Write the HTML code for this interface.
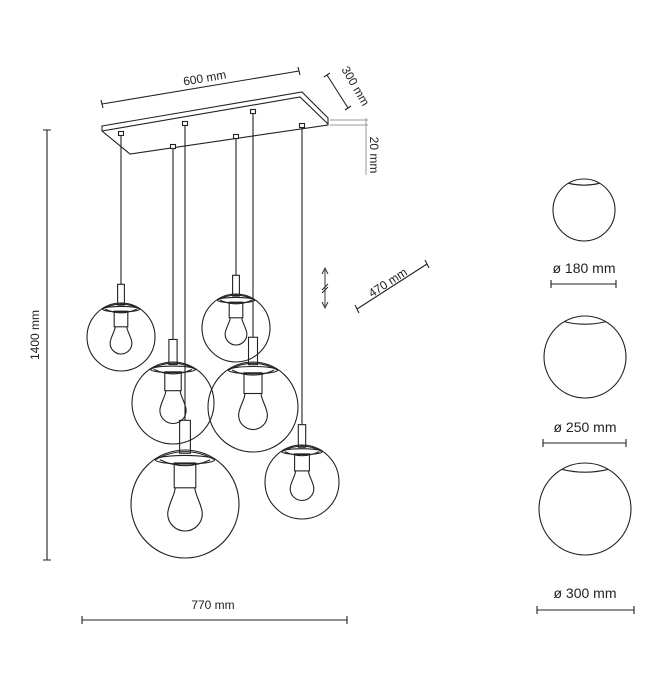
<!DOCTYPE html>
<html><head><meta charset="utf-8"><style>
html,body{margin:0;padding:0;background:#fff}
svg{display:block}
text{font-family:"Liberation Sans",sans-serif;fill:#222}
</style></head><body>
<svg id="s" width="650" height="677" viewBox="0 0 650 677" xmlns="http://www.w3.org/2000/svg">
<g fill="none" stroke="#222" stroke-width="1.1">
<!-- canopy -->
<path d="M102,126 L302,92 L328,118 L328,125 L130,154 L102,131 Z"/>
<path d="M102,131 L300,97 L328,124"/>
<!-- dimensions -->
<path d="M47,130 V560 M43,130 H51 M43,560 H51"/>
<path d="M82,620 H347 M82,616 V624 M347,616 V624"/>
<path d="M102,104 L299,71 M101,100 L103,108 M298,67 L300,75"/>
<path d="M327,75 L348,108 M324,77 L330,73 M345,110 L351,106"/>
<path d="M357,309 L427,264 M355,305 L359,313 M425,260 L429,268"/>
<path d="M325,270 V306 M322,274 L325,268 L328,274 M322,302 L325,308 L328,302 M322,290 L328,284 M322,293 L328,287" stroke-width="0.9"/>
<path d="M551,284 H616 M551,280 V288 M616,280 V288"/>
<path d="M543,443 H626 M543,439 V447 M626,439 V447"/>
<path d="M537,610 H634 M537,606 V614 M634,606 V614"/>
</g>
<g fill="none" stroke="#999" stroke-width="1">
<path d="M330,120 H368 M330,125 H368 M366,118 V175"/>
</g>
<g id="lamps" fill="none" stroke="#222" stroke-width="1.1"></g>
<text x="205" y="82" font-size="12" text-anchor="middle" transform="rotate(-9.5 205 80)">600 mm</text>
<text x="0" y="0" font-size="12" text-anchor="middle" transform="translate(352,88) rotate(60)">300 mm</text>
<text x="0" y="0" font-size="12" text-anchor="middle" transform="translate(370,155) rotate(90)">20 mm</text>
<text x="0" y="0" font-size="12" text-anchor="middle" transform="translate(390,286) rotate(-33)">470 mm</text>
<text x="0" y="0" font-size="12" text-anchor="middle" transform="translate(39,335) rotate(-90)">1400 mm</text>
<text x="213" y="609" font-size="12" text-anchor="middle">770 mm</text>
<text x="584" y="273" font-size="14" text-anchor="middle">ø 180 mm</text>
<text x="585" y="432" font-size="14" text-anchor="middle">ø 250 mm</text>
<text x="585" y="598" font-size="14" text-anchor="middle">ø 300 mm</text>
</svg>
<script>
var g=document.getElementById('lamps'),h='';
function L(x,y,cy,r){
 var capY=cy-0.82*r, top=cy-1.55*r;
 h+='<path d="M'+x+','+y+' V'+top+'"/>';
 h+='<rect x="'+(x-2.5)+'" y="'+(y-2.5)+'" width="5" height="4" fill="#fff"/>';
 h+='<circle cx="'+x+'" cy="'+cy+'" r="'+r+'"/>';
 var sw=0.2*r; h+='<rect x="'+(x-sw/2)+'" y="'+top+'" width="'+sw+'" height="'+(capY-top-0.12*r)+'"/>';
 var w=0.55*r;
 h+='<path d="M'+(x-w)+','+capY+' Q'+x+','+(capY-0.3*r)+' '+(x+w)+','+capY+'"/>';
 h+='<ellipse cx="'+x+'" cy="'+capY+'" rx="'+w+'" ry="'+(0.08*r)+'"/>';
 h+='<path d="M'+(x-w*0.85)+','+capY+' Q'+x+','+(capY+0.22*r)+' '+(x+w*0.85)+','+capY+'"/>';
 var kw=0.4*r,k0=capY+0.06*r,k1=cy-0.3*r;
 h+='<rect x="'+(x-kw/2)+'" y="'+k0+'" width="'+kw+'" height="'+(k1-k0)+'"/>';
 var br=0.32*r,bc=cy+0.18*r;
 h+='<path d="M'+(x-kw/2+1)+','+k1+' C'+(x-kw/2+1)+','+(k1+0.12*r)+' '+(x-br)+','+(bc-0.15*r)+' '+(x-br)+','+bc+' A'+br+','+br+' 0 1 0 '+(x+br)+','+bc+' C'+(x+br)+','+(bc-0.15*r)+' '+(x+kw/2-1)+','+(k1+0.12*r)+' '+(x+kw/2-1)+','+k1+'"/>';
}
L(121,134,337,34);L(236,137,328,34);L(173,147,403,41);L(253,112,407,45);L(185,124,504,54);L(302,126,482,37);
function G(x,cy,r){h+='<circle cx="'+x+'" cy="'+cy+'" r="'+r+'"/>';var y=cy-0.86*r,w=0.5*r;
 h+='<path d="M'+(x-w)+','+y+' Q'+x+','+(y+0.12*r)+' '+(x+w)+','+y+'"/>';}
G(584,210,31);G(585,357,41);G(585,509,46);
g.innerHTML=h;
</script>
</body></html>
